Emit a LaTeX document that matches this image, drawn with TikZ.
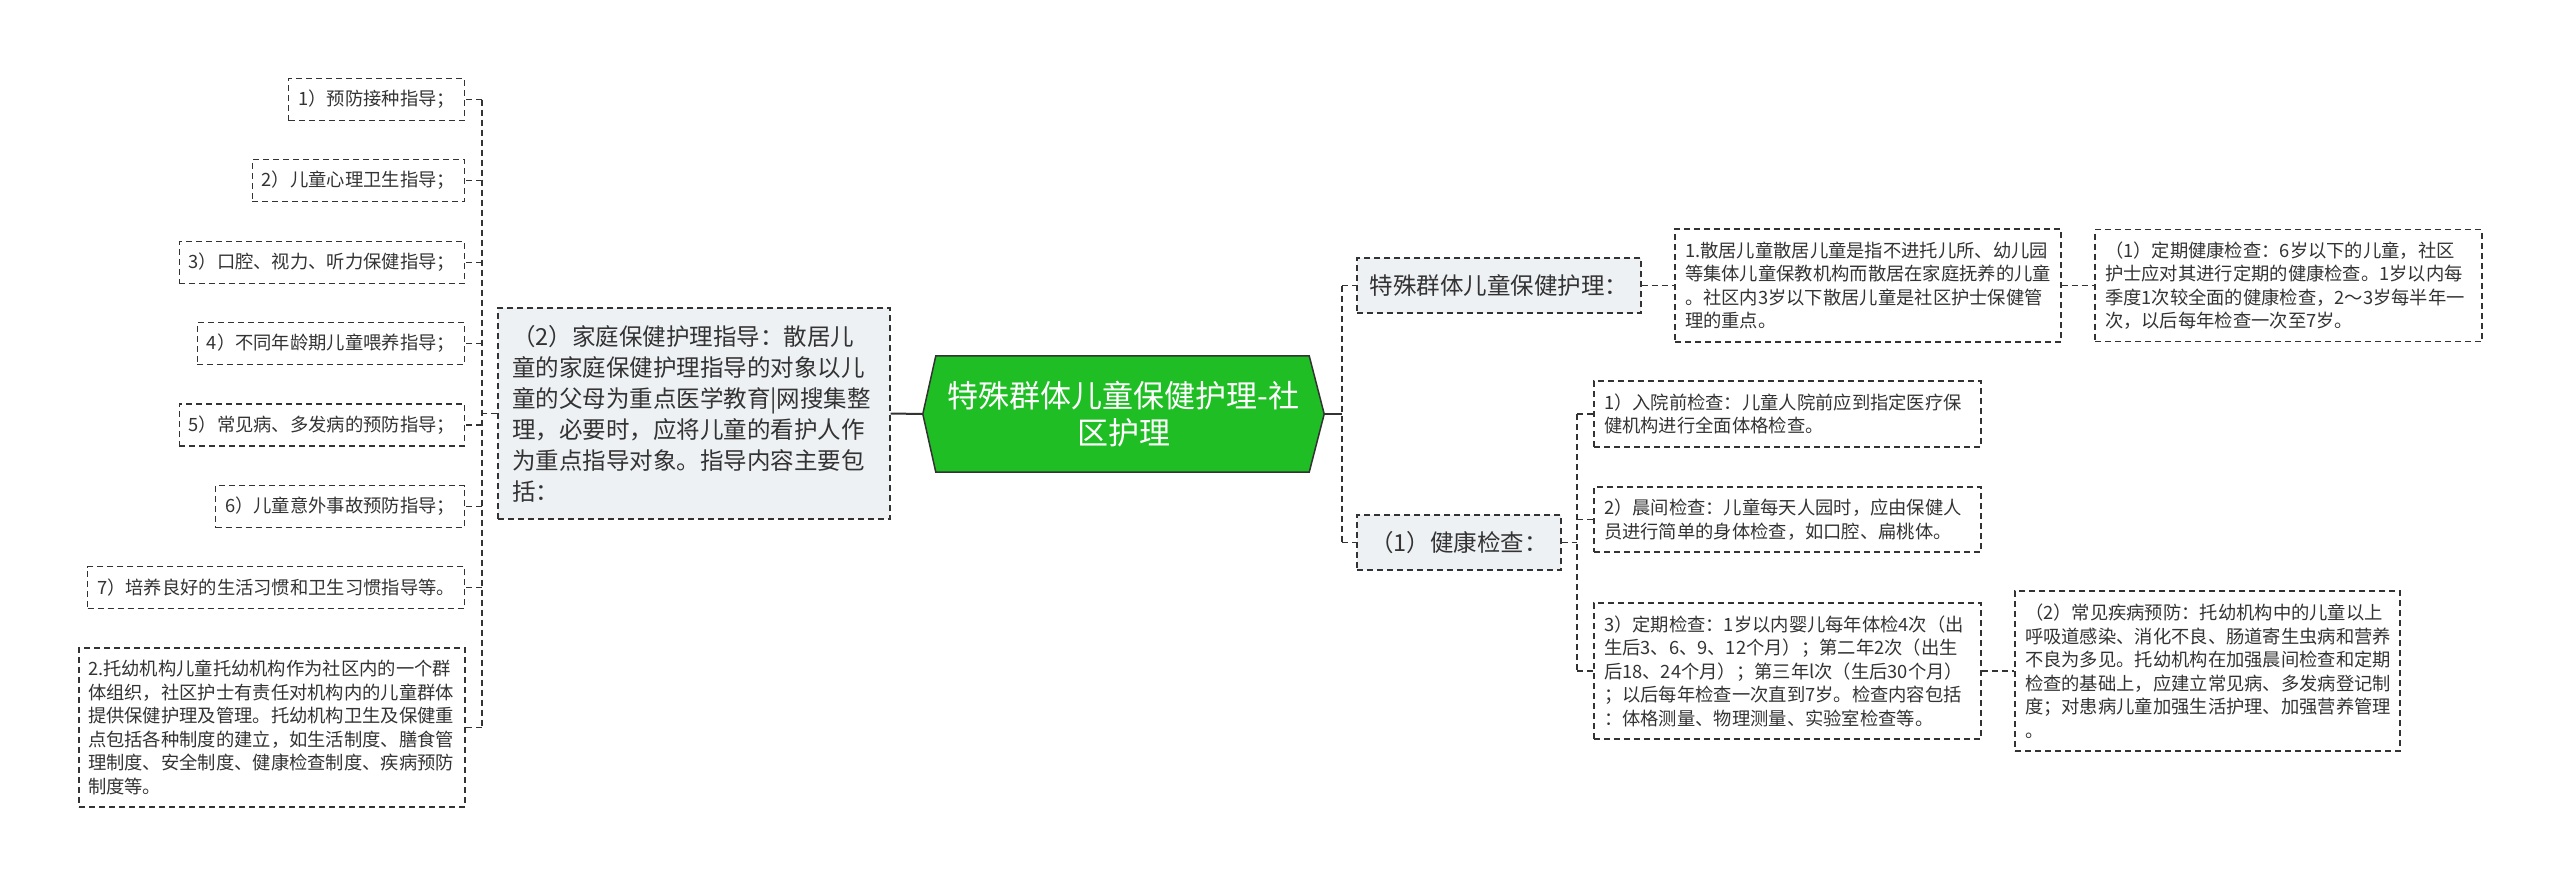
\documentclass[tikz,border=0pt]{standalone}
\usepackage{fontspec}
\setmainfont{Noto Sans CJK SC}
\usetikzlibrary{backgrounds}
\definecolor{txt}{HTML}{333333}
\definecolor{graybg}{HTML}{EEF1F4}
\definecolor{rootgreen}{HTML}{1EBE24}
\newcommand\myfs[2]{\fontsize{#1pt}{#2pt}\selectfont}
\begin{document}
\begin{tikzpicture}[x=1pt,y=-1pt,
  dbox/.style={draw=txt, dash pattern=on 6pt off 4pt, line width=1.1pt, text=txt, inner ysep=0pt, align=left},
  sbox/.style={dbox, font=\myfs{18.3}{23.5}, inner xsep=9.5pt, minimum height=42pt, anchor=east},
  mbox/.style={dbox, font=\myfs{18.3}{23.5}, inner xsep=10pt},
  gbox/.style={dbox, fill=graybg, font=\myfs{23.5}{31}},
  conn/.style={draw=txt, dash pattern=on 6pt off 4pt, line width=1.1pt},
  rootconn/.style={draw=txt, line width=2pt},
  rootnode/.style={text=white, font=\myfs{31}{37}, align=center, minimum width=401pt, minimum height=116pt, inner sep=0pt}
]
\useasboundingbox (0,0) rectangle (2560,887);

% left small boxes
\node[sbox] (b1) at (465,99.5) {1）预防接种指导；};
\node[sbox] (b2) at (465,180.5) {2）儿童心理卫生指导；};
\node[sbox] (b3) at (465,262.5) {3）口腔、视力、听力保健指导；};
\node[sbox] (b4) at (465,343.5) {4）不同年龄期儿童喂养指导；};
\node[sbox] (b5) at (465,425) {5）常见病、多发病的预防指导；};
\node[sbox] (b6) at (465,506.5) {6）儿童意外事故预防指导；};
\node[sbox] (b7) at (465,587.5) {7）培养良好的生活习惯和卫生习惯指导等。};
\node[mbox, text width=368pt, inner xsep=9pt, minimum height=159pt] (b8) at (272,727.5) {2.托幼机构儿童托幼机构作为社区内的一个群\\体组织，社区护士有责任对机构内的儿童群体\\提供保健护理及管理。托幼机构卫生及保健重\\点包括各种制度的建立，如生活制度、膳食管\\理制度、安全制度、健康检查制度、疾病预防\\制度等。};

% left gray box
\node[gbox, text width=364pt, inner xsep=14pt, minimum height=211pt] (g2) at (694,413.5) {（2）家庭保健护理指导：散居儿\\童的家庭保健护理指导的对象以儿\\童的父母为重点医学教育|网搜集整\\理，必要时，应将儿童的看护人作\\为重点指导对象。指导内容主要包\\括：};

% root
\node[rootnode] (root) at (1123.5,414) {特殊群体儿童保健护理-社\\区护理};
\begin{scope}[on background layer]
\draw[fill=rootgreen, draw=txt, line width=1.5pt] (root.west) -- ([xshift=13pt]root.north west) -- ([xshift=-15pt]root.north east) -- (root.east) -- ([xshift=-15pt]root.south east) -- ([xshift=13pt]root.south west) -- cycle;
\end{scope}

% right side
\node[gbox, minimum width=284pt, minimum height=55pt, inner xsep=0pt, align=center] (r1) at (1499,285.5) {特殊群体儿童保健护理：};
\node[gbox, minimum width=204pt, minimum height=55pt, inner xsep=0pt, align=center] (r2) at (1459,542.5) {（1）健康检查：};
\node[mbox, text width=366pt, minimum height=113pt] (r11) at (1868,285.5) {1.散居儿童散居儿童是指不进托儿所、幼儿园\\等集体儿童保教机构而散居在家庭抚养的儿童\\。社区内3岁以下散居儿童是社区护士保健管\\理的重点。};
\node[mbox, text width=367pt, minimum height=112pt] (r111) at (2288.5,285.5) {（1）定期健康检查：6岁以下的儿童，社区\\护士应对其进行定期的健康检查。1岁以内每\\季度1次较全面的健康检查，2～3岁每半年一\\次，以后每年检查一次至7岁。};
\node[mbox, text width=367pt, minimum height=66pt] (r21) at (1787.5,414) {1）入院前检查：儿童人院前应到指定医疗保\\健机构进行全面体格检查。};
\node[mbox, text width=367pt, minimum height=65pt] (r22) at (1787.5,519.5) {2）晨间检查：儿童每天人园时，应由保健人\\员进行简单的身体检查，如口腔、扁桃体。};
\node[mbox, text width=367pt, minimum height=136pt] (r23) at (1787.5,671) {3）定期检查：1岁以内婴儿每年体检4次（出\\生后3、6、9、12个月）；第二年2次（出生\\后18、24个月）；第三年l次（生后30个月）\\；以后每年检查一次直到7岁。检查内容包括\\：体格测量、物理测量、实验室检查等。};
\node[mbox, text width=365pt, minimum height=160pt] (r231) at (2207.5,671) {（2）常见疾病预防：托幼机构中的儿童以上\\呼吸道感染、消化不良、肠道寄生虫病和营养\\不良为多见。托幼机构在加强晨间检查和定期\\检查的基础上，应建立常见病、多发病登记制\\度；对患病儿童加强生活护理、加强营养管理\\。};

% junctions
\coordinate (jl) at (482,413.5);
\coordinate (jr) at (1342,414);
\coordinate (jh) at (1577,414);

% connectors
\draw[rootconn] (root.west) -- (g2.east);
\draw[rootconn] (root.east) -- (jr);
\draw[conn] (g2.west) -- (jl);
\draw[conn] (jl |- b1.east) -- (jl |- b8.east);
\foreach \n in {b1,b2,b3,b4,b5,b6,b7,b8} \draw[conn] (jl |- \n.east) -- (\n.east);
\draw[conn] (jr |- r1.west) -- (jr |- r2.west);
\draw[conn] (jr |- r1.west) -- (r1.west);
\draw[conn] (jr |- r2.west) -- (r2.west);
\draw[conn] (r1.east) -- (r11.west);
\draw[conn] (r11.east) -- (r111.west);
\draw[conn] (r2.east) -- (jh |- r2.east);
\draw[conn] (jh |- r21.west) -- (jh |- r23.west);
\foreach \n in {r21,r22,r23} \draw[conn] (jh |- \n.west) -- (\n.west);
\draw[conn] (r23.east) -- (r231.west);
\end{tikzpicture}
\end{document}
